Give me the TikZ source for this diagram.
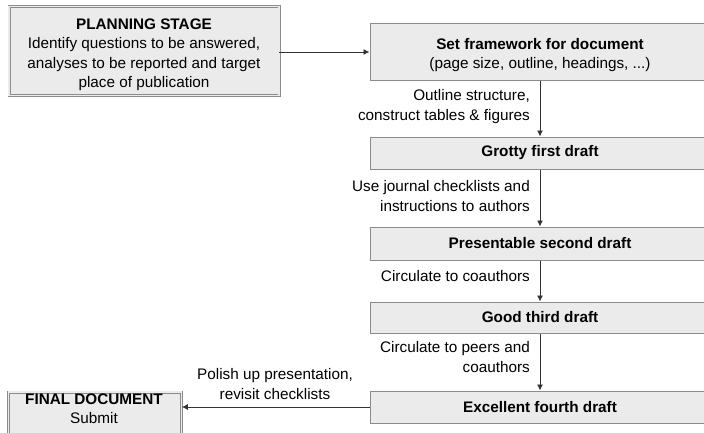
\documentclass[tikz,border=0pt]{standalone}
\usepackage{fontspec}
\setmainfont{Liberation Sans}
\usetikzlibrary{arrows.meta}
\definecolor{boxfill}{HTML}{EBEBEB}
\definecolor{boxline}{HTML}{8C8C8C}
\tikzset{
  every node/.style={font=\fontsize{15.3}{19.5}\selectfont, inner sep=0pt, text=black},
  box/.style={draw=boxline, fill=boxfill, line width=1pt, minimum width=340pt, align=center},
  dbox/.style={draw=boxline, fill=boxfill, line width=0.7pt, double=boxfill, double distance=1.6pt, align=center},
  conn/.style={draw=black!80, line width=0.9pt, -{Latex[length=6pt,width=6pt]}},
  lab/.style={anchor=east, align=right},
}
\begin{document}
\begin{tikzpicture}[x=1pt,y=-1pt]
\useasboundingbox (0,0) rectangle (704,432);
\clip (0,0) rectangle (704,432);
\fill[white] (0,0) rectangle (704,432);
% boxes
\node[dbox, minimum width=270pt, minimum height=89pt] (plan) at (144,51) {};
\node[align=center] (plantext) at (144,54.5)
  {\textbf{PLANNING STAGE}\\Identify questions to be answered,\\analyses to be reported and target\\place of publication};
\node[box, minimum height=57pt] (fw) at (540,51.5) {};
\node[align=center] (fwtext) at (540,55)
  {\textbf{Set framework for document}\\(page size, outline, headings, ...)};
\node[box, minimum height=32pt] (g1) at (540,153) {\textbf{Grotty first draft}};
\node[box, minimum height=33pt] (g2) at (540,243.5) {\textbf{Presentable second draft}};
\node[box, minimum height=31pt] (g3) at (540,317.5) {\textbf{Good third draft}};
\node[box, minimum height=32pt] (g4) at (540,407) {\textbf{Excellent fourth draft}};
\node[dbox, minimum width=173pt, minimum height=50pt] (fin) at (95,417) {};
\node[align=center] (fintext) at (94,408.5) {\textbf{FINAL DOCUMENT}\\Submit};
% connectors
\draw[conn] (plan.east |- 0,52) -- (fw.west |- 0,52);
\draw[conn] (fw) -- (g1);
\draw[conn] (g1) -- (g2);
\draw[conn] (g2) -- (g3);
\draw[conn] (g3) -- (g4);
\draw[conn] (g4.west) -- (fin.east |- g4.west);
% labels
\node[lab] (l1) at (530,106.5) {Outline structure,\\construct tables \& figures};
\node[lab] (l2) at (530,196) {Use journal checklists and\\instructions to authors};
\node[lab] (l3) at (530,276) {Circulate to coauthors};
\node[lab] (l4) at (530,357) {Circulate to peers and\\coauthors};
\node[align=center] (l5) at (275,384) {Polish up presentation,\\revisit checklists};
\end{tikzpicture}
\end{document}
